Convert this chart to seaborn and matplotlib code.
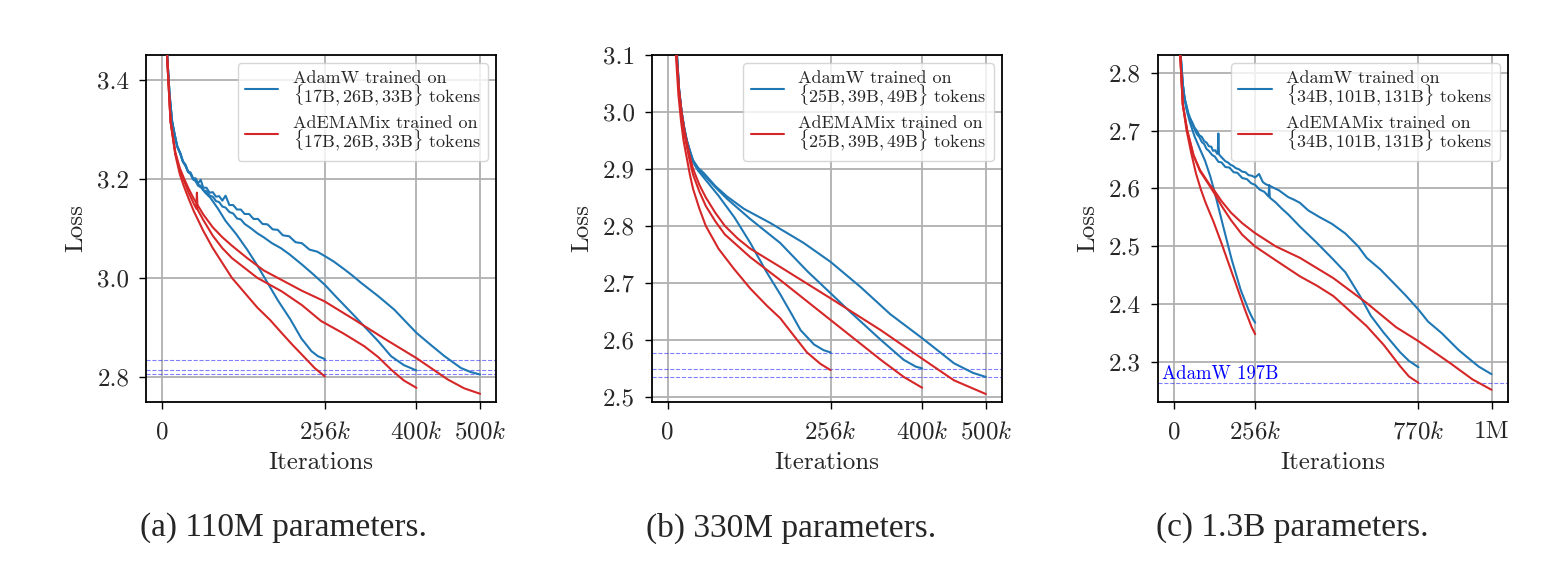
import matplotlib
matplotlib.use("Agg")
import matplotlib.pyplot as plt
from matplotlib.lines import Line2D
import pandas as pd
import seaborn as sns

# ---------------- data (x in thousands of iterations) ----------------
# Panel (a) 110M
a_adamw_256_x = [3, 8.3, 12, 16, 20, 24, 29, 33, 37, 41, 45, 49, 53, 57, 62, 68, 76, 88, 100, 117, 134, 150, 166, 182, 202, 219, 235, 245, 256]
a_adamw_256_y = [3.9, 3.45, 3.37, 3.316, 3.29, 3.266, 3.25, 3.236, 3.226, 3.215, 3.21, 3.199, 3.195, 3.186, 3.182, 3.172, 3.162, 3.14, 3.115, 3.088, 3.057, 3.025, 2.99, 2.955, 2.916, 2.878, 2.852, 2.842, 2.836]
a_adamw_400_x = [3, 8.3, 12, 16, 20, 24, 29, 33, 37, 41, 45, 49, 53, 57, 61, 65, 70, 75, 80, 85, 90, 95, 100, 106, 112, 118, 124, 130, 140, 150, 160, 173, 187, 200, 220, 238, 256, 275, 290, 305, 318, 340, 360, 380, 400]
a_adamw_400_y = [3.9, 3.45, 3.37, 3.316, 3.288, 3.265, 3.25, 3.234, 3.227, 3.214, 3.21, 3.199, 3.197, 3.188, 3.186, 3.177, 3.175, 3.166, 3.164, 3.155, 3.153, 3.144, 3.142, 3.133, 3.13, 3.12, 3.118, 3.109, 3.1, 3.09, 3.082, 3.07, 3.06, 3.048, 3.027, 3.007, 2.986, 2.96, 2.94, 2.92, 2.902, 2.872, 2.842, 2.824, 2.813]
a_adamw_500_x = [3, 8.3, 12, 16, 20, 24, 29, 33, 37, 41, 45, 49, 53, 57, 61, 65, 70, 75, 80, 85, 90, 95, 100, 106, 112, 118, 124, 130, 137, 144, 151, 158, 166, 174, 182, 190, 200, 210, 220, 232, 244, 256, 270, 287, 300, 313, 340, 365, 400, 425, 444, 470, 485, 500]
a_adamw_500_y = [3.9, 3.45, 3.37, 3.316, 3.29, 3.266, 3.252, 3.235, 3.229, 3.215, 3.213, 3.201, 3.201, 3.191, 3.198, 3.182, 3.182, 3.172, 3.173, 3.164, 3.165, 3.156, 3.166, 3.147, 3.147, 3.138, 3.138, 3.129, 3.129, 3.119, 3.119, 3.109, 3.108, 3.098, 3.097, 3.086, 3.084, 3.072, 3.07, 3.057, 3.053, 3.044, 3.033, 3.017, 3.004, 2.99, 2.963, 2.936, 2.889, 2.862, 2.842, 2.818, 2.81, 2.805]
a_ademamix_256_x = [3, 8, 13.6, 21, 28, 34.5, 42, 50, 65, 80, 95, 110, 130, 150, 170, 188, 205, 220, 240, 256]
a_ademamix_256_y = [3.9, 3.45, 3.316, 3.249, 3.21, 3.185, 3.16, 3.135, 3.095, 3.06, 3.03, 3.0, 2.97, 2.94, 2.915, 2.889, 2.865, 2.845, 2.818, 2.801]
a_ademamix_400_x = [3, 8, 13.6, 21, 28, 35, 42, 50, 54, 55, 56, 65, 80, 95, 110, 130, 150, 188, 220, 250, 285, 318, 340, 360, 380, 400]
a_ademamix_400_y = [3.9, 3.45, 3.316, 3.252, 3.218, 3.195, 3.172, 3.15, 3.14, 3.172, 3.138, 3.117, 3.085, 3.06, 3.04, 3.02, 3.0, 2.973, 2.945, 2.913, 2.888, 2.862, 2.84, 2.815, 2.793, 2.778]
a_ademamix_500_x = [3, 8, 13.6, 21, 28, 35, 42, 50, 65, 80, 95, 110, 134, 160, 182, 220, 255, 302, 350, 400, 449, 475, 500]
a_ademamix_500_y = [3.9, 3.45, 3.316, 3.254, 3.222, 3.2, 3.18, 3.16, 3.128, 3.102, 3.082, 3.065, 3.04, 3.015, 3.0, 2.974, 2.953, 2.916, 2.877, 2.838, 2.795, 2.777, 2.766]
a_baselines = [2.835, 2.813, 2.806]

# Panel (b) 330M
b_adamw_256_x = [3, 14.7, 18, 22, 26, 30, 35, 40, 48, 56.7, 80, 105, 130, 155, 177, 195, 209, 230, 245, 256]
b_adamw_256_y = [3.6, 3.1, 3.04, 3.0, 2.972, 2.95, 2.93, 2.912, 2.897, 2.885, 2.853, 2.815, 2.77, 2.72, 2.68, 2.645, 2.617, 2.592, 2.582, 2.578]
b_adamw_400_x = [3, 14.7, 18, 22, 26, 30, 35, 40, 48, 56.7, 75, 93, 130, 177, 220, 256, 287, 335, 371, 390, 400]
b_adamw_400_y = [3.6, 3.1, 3.04, 3.0, 2.973, 2.951, 2.932, 2.915, 2.9, 2.89, 2.868, 2.848, 2.812, 2.77, 2.72, 2.682, 2.649, 2.6, 2.565, 2.553, 2.55]
b_adamw_500_x = [3, 14.7, 18, 22, 26, 30, 35, 40, 48, 56.7, 75, 93, 120, 161.6, 214, 256, 303, 350, 400, 450, 480, 500]
b_adamw_500_y = [3.6, 3.1, 3.04, 3.0, 2.973, 2.951, 2.932, 2.915, 2.902, 2.893, 2.87, 2.852, 2.83, 2.805, 2.77, 2.737, 2.693, 2.645, 2.603, 2.559, 2.542, 2.535]
b_ademamix_256_x = [3, 13, 17, 21, 25, 30, 35, 40, 50, 60, 80, 104, 130, 156, 177, 200, 219, 240, 256]
b_ademamix_256_y = [3.6, 3.1, 3.03, 2.985, 2.95, 2.92, 2.89, 2.865, 2.83, 2.8, 2.76, 2.725, 2.69, 2.66, 2.638, 2.605, 2.578, 2.558, 2.547]
b_ademamix_400_x = [3, 14, 18, 22, 26, 30, 35, 40, 50, 60, 75, 90, 110, 130, 177, 256, 335, 371, 400]
b_ademamix_400_y = [3.6, 3.1, 3.035, 2.995, 2.962, 2.94, 2.913, 2.89, 2.86, 2.835, 2.808, 2.785, 2.765, 2.745, 2.705, 2.635, 2.565, 2.535, 2.516]
b_ademamix_500_x = [3, 14, 18, 22, 26, 30, 35, 40, 50, 60, 75, 90, 110, 130, 177, 256, 335, 400, 450, 500]
b_ademamix_500_y = [3.6, 3.1, 3.038, 3.0, 2.97, 2.948, 2.922, 2.9, 2.872, 2.85, 2.823, 2.8, 2.778, 2.76, 2.728, 2.673, 2.617, 2.567, 2.529, 2.505]
b_baselines = [2.577, 2.549, 2.535]

# Panel (c) 1.3B
c_adamw_256_x = [5, 20, 28, 34, 39, 50, 65, 82, 98, 115, 129, 155, 182, 210, 235, 248, 256]
c_adamw_256_y = [3.2, 2.84, 2.78, 2.752, 2.738, 2.715, 2.69, 2.668, 2.648, 2.62, 2.592, 2.535, 2.477, 2.425, 2.39, 2.375, 2.368]
c_adamw_770_x = [5, 20, 28, 34, 39, 45, 52, 58, 65, 72, 80, 88, 95, 103, 110, 120, 129, 140, 150, 162, 175, 188, 200, 215, 230, 243, 256, 270, 285, 298, 300, 302, 320, 340, 360, 397, 450, 502, 540, 586, 620, 660, 712, 740, 770]
c_adamw_770_y = [3.2, 2.84, 2.78, 2.755, 2.744, 2.728, 2.72, 2.71, 2.703, 2.694, 2.689, 2.68, 2.677, 2.668, 2.665, 2.658, 2.655, 2.646, 2.645, 2.637, 2.636, 2.628, 2.627, 2.618, 2.616, 2.609, 2.606, 2.598, 2.594, 2.586, 2.606, 2.584, 2.576, 2.565, 2.555, 2.534, 2.506, 2.477, 2.455, 2.414, 2.38, 2.351, 2.317, 2.302, 2.291]
c_adamw_1m_x = [5, 20, 28, 34, 39, 45, 52, 58, 65, 72, 80, 88, 95, 103, 110, 118, 123, 130, 136, 138, 140, 142, 148, 155, 162, 170, 178, 186, 195, 205, 215, 225, 235, 245, 256, 268, 280, 290, 300, 318, 330, 340, 360, 380, 397, 423, 460, 497, 540, 580, 607, 650, 691, 730, 771, 800, 843, 896, 922, 960, 1000]
c_adamw_1m_y = [3.2, 2.84, 2.78, 2.755, 2.744, 2.731, 2.72, 2.714, 2.705, 2.7, 2.692, 2.689, 2.682, 2.679, 2.673, 2.672, 2.665, 2.666, 2.66, 2.66, 2.695, 2.659, 2.655, 2.651, 2.647, 2.645, 2.641, 2.639, 2.635, 2.633, 2.629, 2.628, 2.623, 2.622, 2.619, 2.625, 2.611, 2.607, 2.605, 2.6, 2.597, 2.593, 2.585, 2.58, 2.575, 2.562, 2.55, 2.539, 2.522, 2.50, 2.48, 2.46, 2.437, 2.415, 2.39, 2.37, 2.35, 2.321, 2.309, 2.292, 2.279]
c_ademamix_256_x = [5, 20, 28, 40, 55, 70, 85, 100, 125, 150, 190, 224, 245, 256]
c_ademamix_256_y = [3.2, 2.83, 2.745, 2.7, 2.66, 2.625, 2.598, 2.575, 2.542, 2.505, 2.443, 2.39, 2.36, 2.348]
c_ademamix_770_x = [5, 20, 28, 42, 62, 82, 112, 129, 150, 180, 215, 255, 320, 397, 450, 502, 607, 660, 712, 740, 770]
c_ademamix_770_y = [3.2, 2.83, 2.745, 2.7, 2.657, 2.63, 2.605, 2.59, 2.57, 2.545, 2.52, 2.5, 2.476, 2.448, 2.432, 2.414, 2.362, 2.33, 2.293, 2.275, 2.264]
c_ademamix_1m_x = [5, 20, 28, 42, 62, 82, 112, 129, 150, 180, 215, 255, 320, 397, 502, 607, 700, 770, 870, 940, 1000]
c_ademamix_1m_y = [3.2, 2.83, 2.745, 2.7, 2.657, 2.632, 2.607, 2.595, 2.578, 2.558, 2.54, 2.523, 2.5, 2.48, 2.445, 2.402, 2.36, 2.336, 2.298, 2.27, 2.252]
c_baseline = 2.263
c_baseline_label = "AdamW 197B"

# ticks / labels
ab_xticks = [0, 256, 400, 500]
ab_xticklabels = ["0", "$256k$", "$400k$", "$500k$"]
c_xticks = [0, 256, 770, 1000]
c_xticklabels = ["0", "$256k$", "$770k$", "1M"]
a_yticks = [2.8, 3.0, 3.2, 3.4]
b_yticks = [2.5, 2.6, 2.7, 2.8, 2.9, 3.0, 3.1]
c_yticks = [2.3, 2.4, 2.5, 2.6, 2.7, 2.8]
a_tokens = ["17B", "26B", "33B"]
b_tokens = ["25B", "39B", "49B"]
c_tokens = ["34B", "101B", "131B"]
captions = ["(a) 110M parameters.", "(b) 330M parameters.", "(c) 1.3B parameters."]

# ---------------- style ----------------
sns.set_style("white")
plt.rcParams["font.family"] = ["cmr10", "DejaVu Serif"]
plt.rcParams["mathtext.fontset"] = "cm"
plt.rcParams["axes.unicode_minus"] = False
plt.rcParams["axes.formatter.use_mathtext"] = True

BLUE = "#1f77b4"
RED = "#d62728"
palette = {"AdamW": BLUE, "AdEMAMix": RED}


def build_df(runs):
    frames = []
    for opt, name, xs, ys in runs:
        frames.append(pd.DataFrame({"iter": xs, "loss": ys, "opt": opt, "run": name}))
    return pd.concat(frames, ignore_index=True)


panels = [
    dict(runs=[("AdamW", "256", a_adamw_256_x, a_adamw_256_y),
               ("AdamW", "400", a_adamw_400_x, a_adamw_400_y),
               ("AdamW", "500", a_adamw_500_x, a_adamw_500_y),
               ("AdEMAMix", "256", a_ademamix_256_x, a_ademamix_256_y),
               ("AdEMAMix", "400", a_ademamix_400_x, a_ademamix_400_y),
               ("AdEMAMix", "500", a_ademamix_500_x, a_ademamix_500_y)],
         xlim=(-25, 525), ylim=(2.75, 3.45), xticks=ab_xticks, xtl=ab_xticklabels,
         yticks=a_yticks, tokens=a_tokens, base=a_baselines),
    dict(runs=[("AdamW", "256", b_adamw_256_x, b_adamw_256_y),
               ("AdamW", "400", b_adamw_400_x, b_adamw_400_y),
               ("AdamW", "500", b_adamw_500_x, b_adamw_500_y),
               ("AdEMAMix", "256", b_ademamix_256_x, b_ademamix_256_y),
               ("AdEMAMix", "400", b_ademamix_400_x, b_ademamix_400_y),
               ("AdEMAMix", "500", b_ademamix_500_x, b_ademamix_500_y)],
         xlim=(-25, 525), ylim=(2.4915, 3.1), xticks=ab_xticks, xtl=ab_xticklabels,
         yticks=b_yticks, tokens=b_tokens, base=b_baselines),
    dict(runs=[("AdamW", "256", c_adamw_256_x, c_adamw_256_y),
               ("AdamW", "770", c_adamw_770_x, c_adamw_770_y),
               ("AdamW", "1000", c_adamw_1m_x, c_adamw_1m_y),
               ("AdEMAMix", "256", c_ademamix_256_x, c_ademamix_256_y),
               ("AdEMAMix", "770", c_ademamix_770_x, c_ademamix_770_y),
               ("AdEMAMix", "1000", c_ademamix_1m_x, c_ademamix_1m_y)],
         xlim=(-51, 1051), ylim=(2.2314, 2.8306), xticks=c_xticks, xtl=c_xticklabels,
         yticks=c_yticks, tokens=c_tokens, base=[c_baseline]),
]

fig = plt.figure(figsize=(15.68, 5.81), dpi=100)
lefts = [146 / 1568, 651.7 / 1568, 1157.7 / 1568]
width = 350 / 1568
bottom = 1 - 401.7 / 581
height = (401.7 - 55) / 581
cap_x = [284 / 1568, 791 / 1568, 1292 / 1568]

for i, p in enumerate(panels):
    ax = fig.add_axes([lefts[i], bottom, width, height])
    df = build_df(p["runs"])
    ax.grid(True, color="#b0b0b0", linewidth=1.3, zorder=0)
    ax.set_axisbelow(True)
    for b in p["base"]:
        ax.axhline(b, color="blue", alpha=0.5, linestyle="--", linewidth=0.8, zorder=1)
    sns.lineplot(data=df, x="iter", y="loss", hue="opt", units="run", estimator=None,
                 sort=False, palette=palette, linewidth=1.5, legend=False, ax=ax, zorder=3)
    ax.set_xlim(*p["xlim"])
    ax.set_ylim(*p["ylim"])
    ax.set_xticks(p["xticks"])
    ax.set_xticklabels(p["xtl"])
    ax.set_yticks(p["yticks"])
    ax.set_yticklabels([f"{v:.1f}" for v in p["yticks"]])
    ax.tick_params(axis="both", which="major", labelsize=18, length=5, width=1.0,
                   direction="out", bottom=True, left=True, color="black")
    ax.tick_params(axis="x", pad=9)
    ax.tick_params(axis="y", pad=7)
    for s in ax.spines.values():
        s.set_visible(True)
        s.set_color("black")
        s.set_linewidth(1.3)
    ax.set_xlabel("Iterations", fontsize=18, labelpad=6)
    ax.set_ylabel("Loss", fontsize=18, labelpad=7)
    t = p["tokens"]
    tok = r"$\{" + ", ".join(r"%s\mathrm{%s}" % (s[:-1], s[-1]) for s in t) + r"\}$ tokens"
    handles = [Line2D([], [], color=BLUE, lw=1.5), Line2D([], [], color=RED, lw=1.5)]
    labels = ["AdamW trained on\n" + tok, "AdEMAMix trained on\n" + tok]
    leg = ax.legend(handles, labels, loc="upper right", fontsize=13, handlelength=1.85,
                    handletextpad=0.8, labelspacing=0.42, borderpad=0.4, framealpha=0.8,
                    edgecolor="0.8", fancybox=True, borderaxespad=0.45)
    for txt in leg.get_texts():
        txt.set_linespacing(0.85)
    if i == 2:
        ax.text(-38, c_baseline + 0.001, c_baseline_label, color="blue", fontsize=13.5,
                va="bottom", ha="left", zorder=4)
    fig.text(cap_x[i], 1 - 528 / 581, captions[i], ha="center", va="center",
             fontsize=24, family="Liberation Serif")

fig.savefig("out.png", dpi=100)
